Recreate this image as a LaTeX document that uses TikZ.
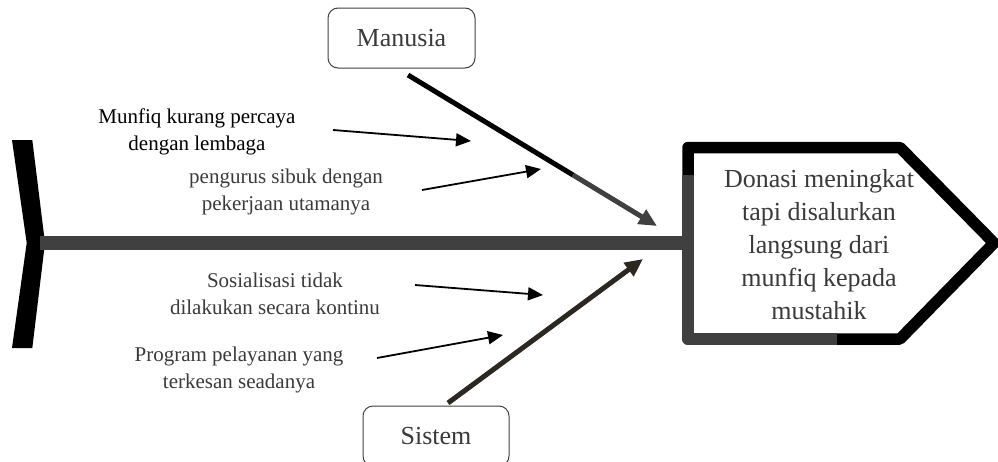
\documentclass[tikz,border=0pt]{standalone}
\usepackage{fontspec}
\setmainfont{Liberation Serif}
\usetikzlibrary{arrows.meta}
\definecolor{spinegray}{HTML}{404040}
\definecolor{txtgray}{HTML}{3A3A3A}
\definecolor{sysdark}{HTML}{2B2822}
\begin{document}
\begin{tikzpicture}[x=1pt,y=-1pt,
  catbox/.style={draw=spinegray, line width=1pt, rounded corners=10pt,
    minimum width=147pt, minimum height=60pt, inner sep=0pt,
    font=\fontsize{26}{30}\selectfont, text=txtgray},
  cause/.style={align=center, inner sep=0pt,
    font=\fontsize{21}{27}\selectfont, text=txtgray},
  subarrow/.style={line width=1.8pt, -{Triangle[length=15pt,width=13pt]}},
  bone/.style={line width=5pt, -{Triangle[length=18pt,width=16pt]}},
  headline/.style={line width=11.5pt, line join=round}
]
\useasboundingbox (0,0) rectangle (998,461);
\clip (0,0) rectangle (998,461);

% tail (chevron)
\fill[black] (12,140) -- (32.3,140) -- (45,243) -- (32.3,348) -- (12,348) -- (26.7,243) -- cycle;
\coordinate (tail) at (40,243);
\coordinate (headleft) at (688,243);

% spine
\draw[spinegray, line width=14pt] (tail) -- (headleft);

% head
\draw[headline, fill=white] (688,147.5) -- (900,147.5) -- (994,243) -- (900,339) -- (688,339) -- cycle;
\draw[headline, spinegray] (688,175) -- (688,339) -- (837,339);
\node[align=center, inner sep=0pt, font=\fontsize{26}{33.2}\selectfont, text=txtgray]
  (head) at (819,244.6) {Donasi meningkat\\tapi disalurkan\\langsung dari\\munfiq kepada\\mustahik};

% categories
\node[catbox] (manusia) at (401.5,38) {Manusia};
\node[catbox, minimum width=146pt] (sistem) at (436,436) {Sistem};

% main bones
\coordinate (mstart) at (408,75);
\coordinate (mmid) at (573,175);
\coordinate (mtip) at (657,226);
\draw[line width=5pt] (mstart) -- (mmid);
\draw[bone, spinegray] (mmid) -- (mtip);

\coordinate (sstart) at (448,403);
\coordinate (stip) at (643,259);
\draw[bone, sysdark] (sstart) -- (stip);

% causes
\node[cause, text=black] (c1) at (197,131.6) {Munfiq kurang percaya\\dengan lembaga};
\node[cause] (c2) at (286,191.6) {pengurus sibuk dengan\\pekerjaan utamanya};
\node[cause] (c3) at (275,293.9) {Sosialisasi tidak\\dilakukan secara kontinu};
\node[cause] (c4) at (239,370.2) {Program pelayanan yang\\terkesan seadanya};

% cause arrows
\coordinate (a1s) at (333,130);
\coordinate (a1e) at (471,141);
\coordinate (a2s) at (422,190);
\coordinate (a2e) at (541,169);
\coordinate (a3s) at (415,285);
\coordinate (a3e) at (543,295);
\coordinate (a4s) at (377,358);
\coordinate (a4e) at (503,335);
\draw[subarrow] (a1s) -- (a1e);
\draw[subarrow] (a2s) -- (a2e);
\draw[subarrow] (a3s) -- (a3e);
\draw[subarrow] (a4s) -- (a4e);
\end{tikzpicture}
\end{document}
